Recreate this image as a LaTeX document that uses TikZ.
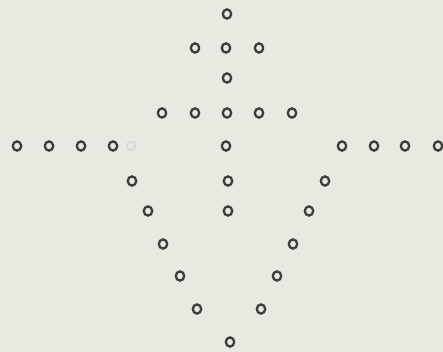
\documentclass[tikz,border=0pt]{standalone}
\usetikzlibrary{shapes.geometric}
\begin{document}
\begin{tikzpicture}[x=1pt,y=-1pt,
  dot/.style={draw=black!76,line width=2.3pt,ellipse,minimum width=8.4pt,minimum height=9.2pt,inner sep=0pt},
  ghost/.style={draw=black!16,line width=1.6pt,ellipse,minimum width=8.2pt,minimum height=9pt,inner sep=0pt}]
\fill[color={rgb,255:red,232;green,234;blue,225}] (0,0) rectangle (443,352);
\useasboundingbox (0,0) rectangle (443,352);
% row 1
\node[dot] (r1) at (227,14) {};
% row 2
\node[dot] (r2a) at (195,48) {};
\node[dot] (r2b) at (226,48) {};
\node[dot] (r2c) at (259,48) {};
% row 3
\node[dot] (r3) at (227,78) {};
% row 4
\node[dot] (r4a) at (162,113) {};
\node[dot] (r4b) at (195,113) {};
\node[dot] (r4c) at (227,113) {};
\node[dot] (r4d) at (259,113) {};
\node[dot] (r4e) at (292,113) {};
% row 5
\node[dot] (r5a) at (17,146) {};
\node[dot] (r5b) at (49,146) {};
\node[dot] (r5c) at (81,146) {};
\node[dot] (r5d) at (113,146) {};
\node[ghost] (r5g) at (131,146) {};
\node[dot] (r5e) at (226,146) {};
\node[dot] (r5f) at (342,146) {};
\node[dot] (r5h) at (374,146) {};
\node[dot] (r5i) at (405,146) {};
\node[dot] (r5j) at (438,146) {};
% row 6
\node[dot] (r6a) at (132,181) {};
\node[dot] (r6b) at (228,181) {};
\node[dot] (r6c) at (325,181) {};
% row 7
\node[dot] (r7a) at (148,211) {};
\node[dot] (r7b) at (228,211) {};
\node[dot] (r7c) at (309,211) {};
% row 8
\node[dot] (r8a) at (163,244) {};
\node[dot] (r8b) at (293,244) {};
% row 9
\node[dot] (r9a) at (180,276) {};
\node[dot] (r9b) at (277,276) {};
% row 10
\node[dot] (r10a) at (197,309) {};
\node[dot] (r10b) at (261,309) {};
% row 11
\node[dot] (r11) at (230,342) {};
\end{tikzpicture}
\end{document}
